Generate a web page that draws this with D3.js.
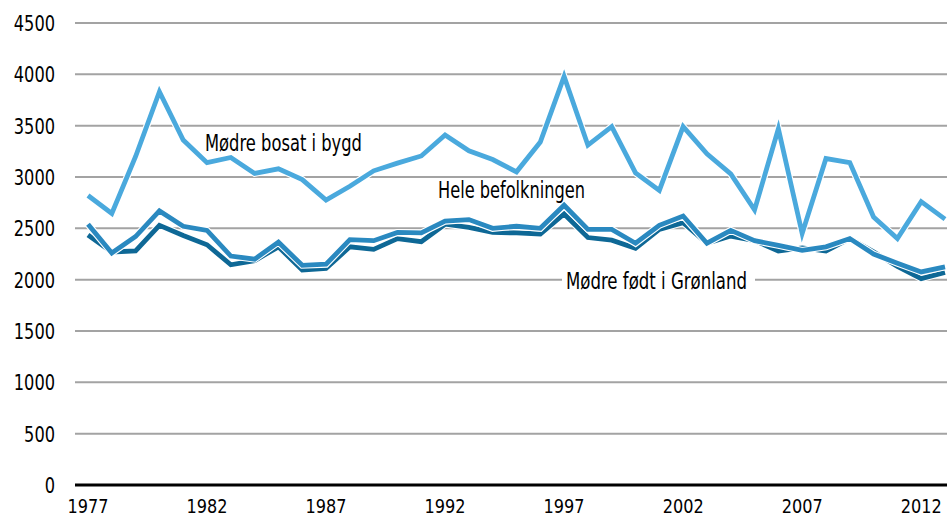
<!DOCTYPE html>
<html>
<head>
  <meta charset="utf-8">
  <script src="https://cdn.jsdelivr.net/npm/d3@7"></script>
  <style>
    body { margin: 0; background: #fff; }
    text { font-family: "DejaVu Sans Condensed", "DejaVu Sans", sans-serif; font-stretch: condensed; fill: #000; }
  </style>
</head>
<body>
<script>
// årstal
var years = d3.range(1977, 2014);

// Mødre bosat i bygd
var bygd = [2820, 2645, 3200, 3830, 3360, 3140, 3190, 3035, 3080, 2975,
            2775, 2910, 3060, 3135, 3205, 3410, 3255, 3170, 3050, 3340,
            3980, 3310, 3490, 3040, 2870, 3490, 3225, 3030, 2680, 3470,
            2450, 3180, 3140, 2610, 2400, 2760, 2590];

// Hele befolkningen
var hele = [2540, 2260, 2420, 2670, 2520, 2480, 2230, 2200, 2365, 2140,
            2150, 2390, 2380, 2460, 2455, 2570, 2585, 2500, 2520, 2500,
            2725, 2490, 2490, 2355, 2530, 2620, 2355, 2480, 2380, 2335,
            2285, 2320, 2400, 2250, 2160, 2075, 2125];

// Mødre født i Grønland
var gronland = [2435, 2270, 2280, 2530, 2430, 2340, 2145, 2185, 2320, 2095,
                2110, 2320, 2295, 2400, 2370, 2540, 2510, 2460, 2455, 2445,
                2640, 2410, 2385, 2305, 2490, 2555, 2355, 2425, 2380, 2280,
                2310, 2280, 2400, 2270, 2130, 2010, 2070];

var yTicks = d3.range(0, 4501, 500);
var xTicks = [1977, 1982, 1987, 1992, 1997, 2002, 2007, 2012];

var W = 947, H = 518;
var svg = d3.select("body").append("svg")
    .attr("width", W).attr("height", H);

var x = d3.scaleLinear().domain([1977, 2013]).range([88, 945]);
var y = d3.scaleLinear().domain([0, 4500]).range([485, 23]);

// gitterlinjer
svg.append("g").selectAll("line")
  .data(yTicks.filter(function(d){ return d > 0; }))
  .enter().append("line")
    .attr("x1", 75).attr("x2", W)
    .attr("y1", function(d){ return y(d); })
    .attr("y2", function(d){ return y(d); })
    .attr("stroke", "#a3a3a3")
    .attr("stroke-width", 2);

// y-akse tekster
svg.append("g").selectAll("text")
  .data(yTicks)
  .enter().append("text")
    .attr("x", 55)
    .attr("y", function(d){ return y(d) + 8; })
    .attr("text-anchor", "end")
    .attr("textLength", function(d){ return String(d).length * 10.3; })
    .attr("lengthAdjust", "spacingAndGlyphs")
    .style("font-size", "22px")
    .text(function(d){ return d; });

// x-akse tekster
svg.append("g").selectAll("text")
  .data(xTicks)
  .enter().append("text")
    .attr("x", function(d){ return x(d); })
    .attr("y", 513)
    .attr("text-anchor", "middle")
    .attr("textLength", 41)
    .attr("lengthAdjust", "spacingAndGlyphs")
    .style("font-size", "20px")
    .text(function(d){ return d; });

var line = d3.line()
    .x(function(d, i){ return x(years[i]); })
    .y(function(d){ return y(d); });

var series = [
  { values: bygd, color: "#4aa9dd" },
  { values: gronland, color: "#0e6896" },
  { values: hele, color: "#2a89c0" }
];

series.forEach(function(s) {
  svg.append("path")
    .attr("d", line(s.values))
    .attr("fill", "none")
    .attr("stroke", "#fff")
    .attr("stroke-width", 7)
    .attr("stroke-linejoin", "miter");
  svg.append("path")
    .attr("d", line(s.values))
    .attr("fill", "none")
    .attr("stroke", s.color)
    .attr("stroke-width", 4.8)
    .attr("stroke-linejoin", "miter");
});

// nul-linje
svg.append("line")
  .attr("x1", 75).attr("x2", W)
  .attr("y1", y(0)).attr("y2", y(0))
  .attr("stroke", "#000")
  .attr("stroke-width", 3);

// seriebetegnelser
svg.append("text")
  .attr("x", 205).attr("y", 151)
  .attr("textLength", 157)
  .attr("lengthAdjust", "spacingAndGlyphs")
  .style("font-size", "23px")
  .text("Mødre bosat i bygd");

svg.append("text")
  .attr("x", 438).attr("y", 198)
  .attr("textLength", 147)
  .attr("lengthAdjust", "spacingAndGlyphs")
  .style("font-size", "23px")
  .text("Hele befolkningen");

var lbl = svg.append("g");
lbl.append("rect")
  .attr("x", 562).attr("y", 266)
  .attr("width", 193).attr("height", 28)
  .attr("fill", "#fff");
lbl.append("text")
  .attr("x", 566).attr("y", 289)
  .attr("textLength", 181)
  .attr("lengthAdjust", "spacingAndGlyphs")
  .style("font-size", "23px")
  .text("Mødre født i Grønland");
</script>
</body>
</html>
